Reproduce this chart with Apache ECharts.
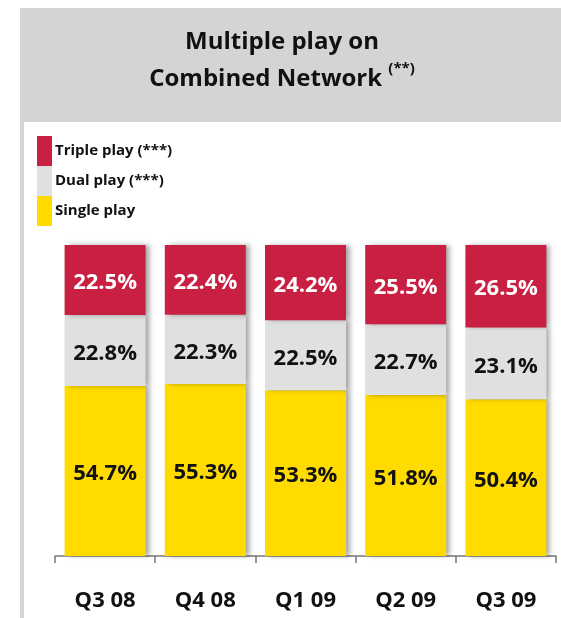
<!DOCTYPE html>
<html><head><meta charset="utf-8">
<script src="https://cdn.jsdelivr.net/npm/echarts@6/dist/echarts.min.js"></script>
<style>html,body{margin:0;padding:0;background:#fff}#c{width:561px;height:618px}</style>
</head><body><div id="c"></div>
<script>
var categories = ['Q3 08', 'Q4 08', 'Q1 09', 'Q2 09', 'Q3 09'];
var singlePlay = [54.7, 55.3, 53.3, 51.8, 50.4];
var dualPlay = [22.8, 22.3, 22.5, 22.7, 23.1];
var triplePlay = [22.5, 22.4, 24.2, 25.5, 26.5];
var seriesNames = ['Triple play (***)', 'Dual play (***)', 'Single play'];

var FONT = '"Open Sans", "Noto Sans", sans-serif';
var chart = echarts.init(document.getElementById('c'), null, {renderer: 'canvas'});

function barSeries(name, data, color, labelColor) {
  return {
    name: name, type: 'bar', stack: 'all', data: data, barWidth: 81,
    itemStyle: {color: color, shadowColor: 'rgba(0,0,0,0.35)', shadowBlur: 5, shadowOffsetX: 4},
    label: {show: true, position: 'inside', formatter: function(p){return p.value.toFixed(1) + '%';},
      color: labelColor, fontFamily: FONT, fontWeight: 'bold', fontSize: 22, offset: [0, 3]},
    emphasis: {disabled: true}
  };
}

chart.setOption({
  animation: false,
  backgroundColor: '#fff',
  graphic: [
    {type: 'rect', shape: {x: 20, y: 8, width: 541, height: 114}, style: {fill: '#d4d4d4'}, z: -10},
    {type: 'rect', shape: {x: 20, y: 122, width: 4, height: 496}, style: {fill: '#d4d4d4'}, z: -10}
  ],
  title: {
    text: 'Multiple play on\nCombined Network {s|(**)}',
    left: 277, top: 19, textAlign: 'center',
    textStyle: {fontFamily: FONT, fontWeight: 'bold', fontSize: 24, color: '#111', lineHeight: 37,
      rich: {s: {fontFamily: FONT, fontWeight: 'bold', fontSize: 15, color: '#111', verticalAlign: 'top', padding: [0,0,12,0]}}}
  },
  legend: {
    orient: 'vertical', left: 37, top: 136, itemWidth: 15, itemHeight: 30, itemGap: 0, padding: 0,
    data: seriesNames, icon: 'rect', selectedMode: false,
    textStyle: {fontFamily: FONT, fontWeight: 'bold', fontSize: 15, color: '#111', padding: [3,0,0,-2]}
  },
  grid: {left: 55, right: 5, top: 245, bottom: 62},
  xAxis: {
    type: 'category', data: categories, offset: 4,
    axisLine: {lineStyle: {color: '#777', width: 1.5}},
    axisTick: {show: true, length: 7, lineStyle: {color: '#777', width: 1.5}},
    axisLabel: {fontFamily: FONT, fontWeight: 'bold', fontSize: 22, color: '#111', margin: 30}
  },
  yAxis: {type: 'value', min: 0, max: 100, show: false},
  series: [
    barSeries(seriesNames[2], singlePlay, '#ffdb00', '#111'),
    barSeries(seriesNames[1], dualPlay, '#e0e0e0', '#111'),
    barSeries(seriesNames[0], triplePlay, '#c91f42', '#fff')
  ]
});
</script></body></html>
